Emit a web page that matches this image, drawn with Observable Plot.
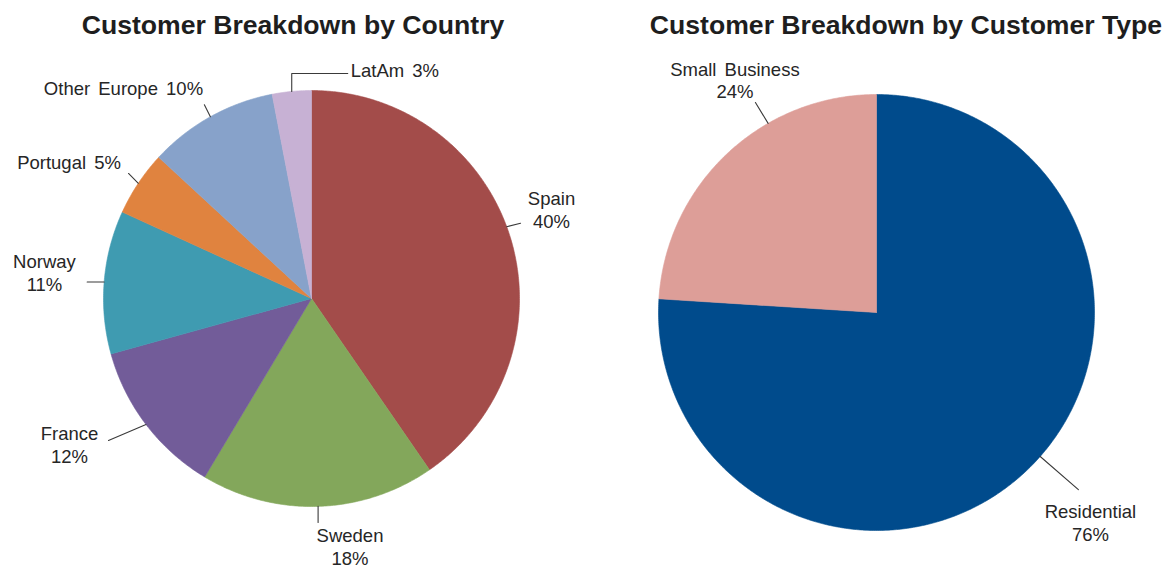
<!DOCTYPE html>
<html>
<head>
<meta charset="utf-8">
<script src="https://cdn.jsdelivr.net/npm/d3@7"></script>
<script src="https://cdn.jsdelivr.net/npm/@observablehq/plot@0.6"></script>
<style>
  html, body { margin: 0; padding: 0; background: #fff; }
  #page { position: relative; width: 1165px; height: 570px; overflow: hidden;
          font-family: "Liberation Sans", Arial, sans-serif; }
  .title { position: absolute; top: 12px; width: 600px; text-align: center; white-space: nowrap;
           font-weight: bold; font-size: 26.6px; line-height: 27px; color: #1e1e1e; }
  .panel { position: absolute; top: 45px; }
  .panel svg { overflow: visible; }
  .panel svg text { word-spacing: 3px; }
</style>
</head>
<body>
<div id="page">
  <div class="title" style="left:-7px">Customer Breakdown by Country</div>
  <div class="title" style="left:606px">Customer Breakdown by Customer Type</div>
  <div class="panel" id="by-country" style="left:0px"></div>
  <div class="panel" id="by-type" style="left:582px"></div>
</div>
<script>
// Customer share by country (%)
const countries = ["Spain", "Sweden", "France", "Norway", "Portugal", "Other Europe", "LatAm"];
const countryShares = [40, 18, 12, 11, 5, 10, 3];
const countryLabels = ["Spain\n40%", "Sweden\n18%", "France\n12%", "Norway\n11%", "Portugal 5%", "Other Europe 10%", "LatAm 3%"];
const countryColors = ["#a34c4a", "#83a75b", "#725c99", "#3f9bb1", "#e0833f", "#87a2ca", "#c7b1d4"];

// Customer share by customer type (%)
const customerTypes = ["Residential", "Small Business"];
const customerShares = [76, 24];
const customerLabels = ["Residential\n76%", "Small Business\n24%"];
const customerColors = ["#004b8c", "#dd9e98"];

// Callout layout: where on the rim the leader starts (fraction of the slice),
// leader vertices as pixel offsets from that rim point, and the label's offset from the last vertex.
const countryCallouts = [
  {at: 0.48, leader: [[13.8, -3.5]], text: [31, -14.1]},
  {at: 0.5, leader: [[0, 16]], text: [31.9, 23.6]},
  {at: 0.5, leader: [[-37.5, 16]], text: [-39, 3.6]},
  {at: 0.5, leader: [[-17, 0]], text: [-42.7, -9.4]},
  {at: 0.5, leader: [[-9.8, -9.8]], text: [-59.5, -11.9]},
  {at: 0.5, leader: [[-6, -12]], text: [-80.9, -17.2]},
  {at: 0.5, leader: [[0, -18], [56, -18]], text: [3, -3.8], anchor: "start"}
];
const customerCallouts = [
  {at: 0.48, leader: [[38.2, 33.1]], text: [12, 32.6]},
  {at: 0.655, leader: [[-12.7, -20.8]], text: [-20.5, -22.9]}
];

function pieChart({names, values, labels, colors, callouts, width, height, cx, cy, radius}) {
  const rows = names.map((name, i) => ({name, value: values[i], label: labels[i], ...callouts[i]}));
  const arcs = d3.pie().sort(null).value(d => d.value)(rows);
  const px = v => v / radius; // pixels -> data units (1 unit = pie radius)

  // Slice outlines in unit-circle coordinates (y up, angles clockwise from 12 o'clock)
  const slices = arcs.flatMap(a => {
    const n = Math.max(2, Math.ceil((a.endAngle - a.startAngle) / (Math.PI / 360)));
    const pts = [{name: a.data.name, x: 0, y: 0}];
    for (let k = 0; k <= n; ++k) {
      const t = a.startAngle + (a.endAngle - a.startAngle) * k / n;
      pts.push({name: a.data.name, x: Math.sin(t), y: Math.cos(t)});
    }
    pts.push({name: a.data.name, x: 0, y: 0});
    return pts;
  });

  const leaders = [];
  const texts = [];
  for (const a of arcs) {
    const d = a.data;
    const t = a.startAngle + (a.endAngle - a.startAngle) * d.at;
    const rx = Math.sin(t), ry = Math.cos(t);
    leaders.push({name: d.name, x: rx, y: ry});
    let ex = rx, ey = ry;
    for (const [dx, dy] of d.leader) {
      ex = rx + px(dx); ey = ry - px(dy);
      leaders.push({name: d.name, x: ex, y: ey});
    }
    texts.push({name: d.name, label: d.label, anchor: d.anchor || "middle",
                x: ex + px(d.text[0]), y: ey - px(d.text[1])});
  }

  const textStyle = {x: "x", y: "y", text: "label", fontSize: 18.5, lineHeight: 1.24,
                     lineAnchor: "middle", fill: "#262626"};

  return Plot.plot({
    width, height,
    margin: 0,
    x: {domain: [px(-cx), px(width - cx)], axis: null},
    y: {domain: [px(-(height - cy)), px(cy)], axis: null},
    color: {domain: names, range: colors},
    style: {fontFamily: "'Liberation Sans', Arial, sans-serif", background: "transparent", overflow: "visible"},
    marks: [
      Plot.line(slices, {x: "x", y: "y", z: "name", fill: "name", stroke: "name", strokeWidth: 0.6, curve: "linear"}),
      Plot.line(leaders, {x: "x", y: "y", z: "name", stroke: "#3a3a3a", strokeWidth: 1.1}),
      Plot.text(texts.filter(d => d.anchor === "middle"), {...textStyle, textAnchor: "middle"}),
      Plot.text(texts.filter(d => d.anchor === "start"), {...textStyle, textAnchor: "start"})
    ]
  });
}

document.getElementById("by-country").append(pieChart({
  names: countries, values: countryShares, labels: countryLabels, colors: countryColors,
  callouts: countryCallouts, width: 582, height: 525, cx: 311, cy: 253, radius: 208
}));

document.getElementById("by-type").append(pieChart({
  names: customerTypes, values: customerShares, labels: customerLabels, colors: customerColors,
  callouts: customerCallouts, width: 583, height: 525, cx: 294, cy: 267, radius: 218
}));
</script>
</body>
</html>
